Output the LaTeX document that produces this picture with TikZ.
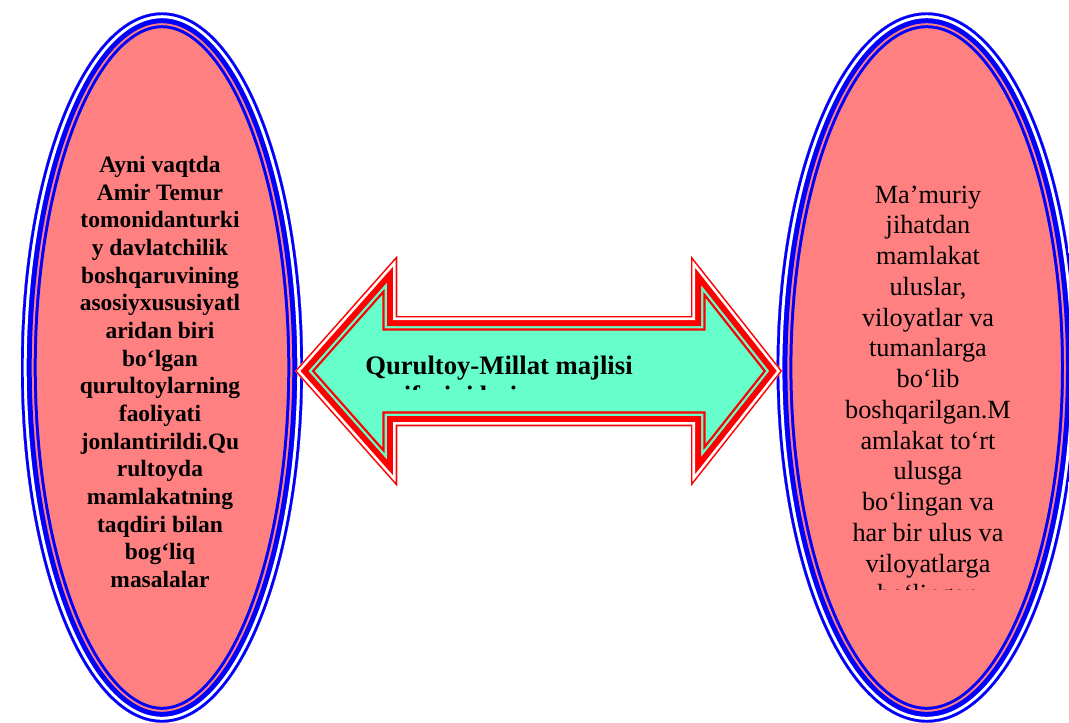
\documentclass[tikz,border=0pt]{standalone}
\usepackage{fontspec}
\setmainfont{Liberation Serif}
\usetikzlibrary{positioning}
\definecolor{OvalPink}{RGB}{255,128,128}
\definecolor{ArrowGreen}{RGB}{102,255,204}
\definecolor{FrameBlue}{RGB}{0,0,255}
\definecolor{FrameRed}{RGB}{255,0,0}

% oval with the blue thick-thin frame: centre, x radius, y radius
\newcommand{\framedoval}[3]{%
  \begin{scope}
    \clip (#1) ellipse [x radius=#2, y radius=#3];
    \fill[OvalPink] (#1) ellipse [x radius=#2, y radius=#3];
    \draw[FrameBlue, line width=23.55pt] (#1) ellipse [x radius=#2, y radius=#3];
    \draw[OvalPink, line width=19.05pt] (#1) ellipse [x radius=#2, y radius=#3];
    \draw[FrameBlue, line width=16.05pt] (#1) ellipse [x radius=#2, y radius=#3];
    \draw[white, line width=8.55pt] (#1) ellipse [x radius=#2, y radius=#3];
    \draw[FrameBlue, line width=4.05pt] (#1) ellipse [x radius=#2, y radius=#3];
  \end{scope}}

\tikzset{
  ovalbold/.style={align=center, inner sep=0pt, anchor=north,
    font=\fontsize{17.6pt}{20.75pt}\selectfont\bfseries},
  ovalplain/.style={align=center, inner sep=0pt, anchor=north,
    font=\fontsize{19.7pt}{23.06pt}\selectfont},
  arrowbold/.style={align=left, inner sep=0pt, anchor=north west,
    font=\fontsize{20pt}{23pt}\selectfont\bfseries},
  arrowlayer/.style={line join=miter}
}

\begin{document}
\begin{tikzpicture}[x=0.75pt, y=-0.75pt]
    \useasboundingbox (0,0) rectangle (1069,722);
    \clip (0,0) rectangle (1069,722);

    % Ovallar
    \coordinate (leftc) at (162,367.5);
    \coordinate (rightc) at (926.7,367.5);
    \framedoval{leftc}{141}{355}
    \framedoval{rightc}{150}{355}

    % Ikki tomonlama strelka
    \def\arrowpath{(295,371) -- (397,256) -- (397,316) -- (691,316) -- (691,256)
      -- (782,371) -- (691,486) -- (691,426) -- (397,426) -- (397,486) -- cycle}
    \begin{scope}
      \clip \arrowpath;
      \fill[ArrowGreen] \arrowpath;
      \draw[arrowlayer, FrameRed, line width=21.9pt] \arrowpath;
      \draw[arrowlayer, ArrowGreen, line width=18.45pt] \arrowpath;
      \draw[arrowlayer, FrameRed, line width=15pt] \arrowpath;
      \draw[arrowlayer, white, line width=6pt] \arrowpath;
      \draw[arrowlayer, FrameRed, line width=1.95pt] \arrowpath;
    \end{scope}

    % Matnlar
    \node[ovalbold] (leftnote) at (160,155.8) {Ayni vaqtda\\Amir Temur\\tomonidanturki\\y davlatchilik\\boshqaruvining\\asosiyxususiyatl\\aridan biri\\bo‘lgan\\qurultoylarning\\faoliyati\\jonlantirildi.Qu\\rultoyda\\mamlakatning\\taqdiri bilan\\bog‘liq\\masalalar};

    \begin{scope}
      \clip (790,170) rectangle (1060,589);
      \node[ovalplain] (rightnote) at (928,185.4) {Ma’muriy\\jihatdan\\mamlakat\\uluslar,\\viloyatlar va\\tumanlarga\\bo‘lib\\boshqarilgan.M\\amlakat to‘rt\\ulusga\\bo‘lingan va\\har bir ulus va\\viloyatlarga\\bo‘lingan};
    \end{scope}

    \begin{scope}
      \clip (340,340) rectangle (700,389);
      \node[arrowbold] (arrownote) at (365,355.3) {Qurultoy-Millat majlisi\\vazifasini bajargan};
    \end{scope}
\end{tikzpicture}
\end{document}
